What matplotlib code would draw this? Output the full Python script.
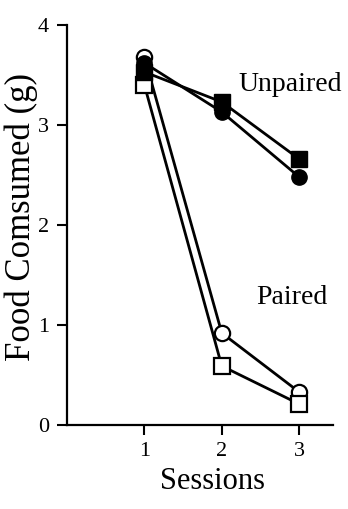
import numpy as np
import matplotlib.pyplot as plt

# Food consumed per session
sessions = [1, 2, 3]
unpaired_square = [3.53, 3.23, 2.66]
unpaired_circle = [3.62, 3.13, 2.48]
paired_square = [3.40, 0.59, 0.21]
paired_circle = [3.68, 0.92, 0.33]

fig = plt.figure(figsize=(3.48, 5.09), dpi=100)
ax = fig.add_axes([0.1925, 0.165, 0.765, 0.786])

lw = 2.0
ms = 11
ax.plot(sessions, paired_circle, '-o', c='black', lw=lw, ms=ms, mfc='white', mec='black', mew=1.6)
ax.plot(sessions, paired_square, '-s', c='black', lw=lw, ms=ms, mfc='white', mec='black', mew=1.6)
ax.plot(sessions, unpaired_square, '-s', c='black', lw=lw, ms=ms, mfc='black', mec='black')
ax.plot(sessions, unpaired_circle, '-o', c='black', lw=lw, ms=ms, mfc='black', mec='black')

serif = 'Liberation Serif'
ax.text(2.88, 3.40, 'Unpaired', family=serif, fontsize=20, ha='center', va='center')
ax.text(2.91, 1.27, 'Paired', family=serif, fontsize=20, ha='center', va='center')

ax.set_xlim(0, 3.44)
ax.set_ylim(0, 4)
ax.set_xticks(sessions)
ax.set_yticks([0, 1, 2, 3, 4])
ax.tick_params(direction='out', length=7, width=1.5, labelsize=16)
ax.tick_params(axis='y', pad=6)
ax.tick_params(axis='x', pad=5)
for lab in ax.get_xticklabels() + ax.get_yticklabels():
    lab.set_family(serif)

ax.spines['top'].set_visible(False)
ax.spines['right'].set_visible(False)
ax.spines['left'].set_linewidth(1.6)
ax.spines['bottom'].set_linewidth(1.6)

ax.set_xlabel('Sessions', family=serif, fontsize=22)
ax.set_ylabel('Food Comsumed (g)', family=serif, fontsize=25)
ax.xaxis.set_label_coords(0.547, -0.106)
ax.yaxis.set_label_coords(-0.108, 0.52)

plt.savefig('out.png', dpi=100)
